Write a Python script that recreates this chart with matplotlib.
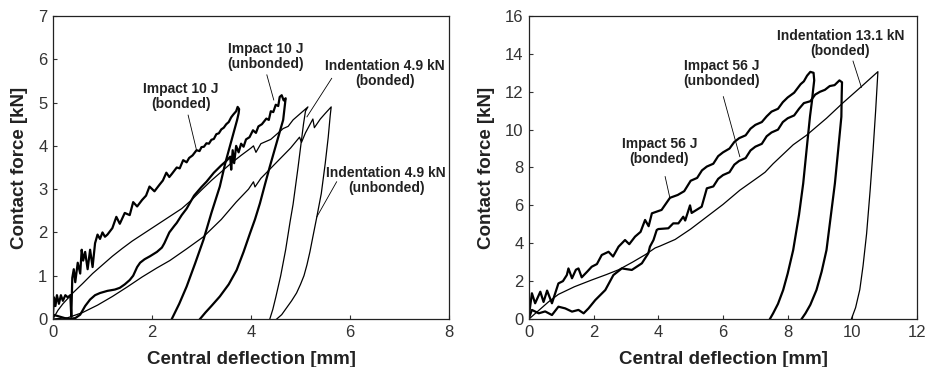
import matplotlib
matplotlib.use('Agg')
import matplotlib.pyplot as plt

plt.rcParams['font.family'] = ['Liberation Sans', 'DejaVu Sans']

## Left panel: 10 J impact vs 4.9 kN indentation
imp10_bond_x = [0.0, 0.02, 0.05, 0.08, 0.12, 0.16, 0.2, 0.25, 0.3, 0.35, 0.37, 0.39, 0.42, 0.45, 0.5, 0.55,
                0.58, 0.61, 0.65, 0.7, 0.75, 0.8, 0.85, 0.9, 0.95, 1.0, 1.05, 1.1, 1.2, 1.28, 1.35, 1.45, 1.55,
                1.62, 1.7, 1.8, 1.88, 1.95, 2.05, 2.15, 2.22, 2.29, 2.35, 2.4, 2.5, 2.56, 2.63, 2.7, 2.75,
                2.82, 2.9, 2.96, 3.0, 3.05, 3.1, 3.15, 3.2, 3.25, 3.3, 3.35, 3.4, 3.45, 3.5, 3.55, 3.6, 3.64,
                3.7, 3.73, 3.76, 3.75,
                3.72, 3.6, 3.48, 3.37, 3.2, 3.04, 2.87, 2.7, 2.55, 2.4]
imp10_bond_y = [0.1, 0.5, 0.3, 0.55, 0.35, 0.55, 0.42, 0.55, 0.5, 0.55, 0.05, 0.95, 1.15, 0.85, 1.3, 1.05,
                1.6, 1.35, 1.55, 1.15, 1.6, 1.2, 1.75, 1.95, 1.85, 2.0, 1.9, 1.95, 2.1, 2.36, 2.2, 2.45, 2.4,
                2.7, 2.6, 2.75, 2.85, 3.06, 2.95, 3.1, 3.2, 3.38, 3.28, 3.35, 3.5, 3.48, 3.67, 3.62, 3.72,
                3.78, 3.9, 3.88, 3.97, 3.98, 4.06, 4.05, 4.14, 4.16, 4.27, 4.29, 4.38, 4.42, 4.5, 4.55, 4.66,
                4.72, 4.8, 4.9, 4.85, 4.75,
                4.6, 4.1, 3.6, 3.06, 2.45, 1.83, 1.28, 0.75, 0.35, 0.0]

imp10_unb_x = [0.0, 0.15, 0.3, 0.45, 0.55, 0.65, 0.75, 0.85, 0.95, 1.1, 1.25, 1.35, 1.45, 1.55, 1.62, 1.7,
               1.76, 1.85, 1.96, 2.1, 2.2, 2.25, 2.35, 2.45, 2.5, 2.6, 2.7, 2.85, 3.0, 3.1, 3.25, 3.4, 3.5,
               3.58, 3.6, 3.63, 3.66, 3.7, 3.75, 3.8, 3.85, 3.9, 3.97, 4.04, 4.1, 4.15, 4.22, 4.31, 4.36,
               4.4, 4.45, 4.5, 4.55, 4.58, 4.62, 4.66, 4.7, 4.68,
               4.65, 4.55, 4.45, 4.38, 4.28, 4.18, 4.08, 3.98, 3.85, 3.71, 3.55, 3.37, 3.2, 3.08, 2.97]
imp10_unb_y = [0.1, 0.05, 0.0, 0.02, 0.1, 0.3, 0.45, 0.55, 0.6, 0.65, 0.68, 0.72, 0.8, 0.9, 1.0, 1.2,
               1.3, 1.38, 1.45, 1.55, 1.65, 1.75, 2.0, 2.15, 2.22, 2.4, 2.55, 2.85, 3.05, 3.17, 3.38, 3.55,
               3.65, 3.75, 3.45, 3.9, 3.6, 4.0, 3.85, 4.05, 3.98, 4.15, 4.2, 4.36, 4.3, 4.45, 4.5, 4.63,
               4.6, 4.8, 4.78, 4.95, 4.92, 5.13, 5.17, 5.05, 5.1, 4.9,
               4.6, 4.2, 3.8, 3.52, 3.1, 2.67, 2.3, 1.98, 1.55, 1.13, 0.8, 0.52, 0.3, 0.15, 0.0]

ind49_bond_x = [0.0, 0.1, 0.2, 0.4, 0.6, 0.8, 1.0, 1.2, 1.4, 1.6, 1.8, 2.0, 2.2, 2.4, 2.6, 2.8, 3.0, 3.2,
                3.4, 3.6, 3.8, 4.0, 4.05, 4.1, 4.2, 4.4, 4.55, 4.65, 4.75, 4.85, 5.0, 5.15,
                5.1, 5.06, 4.95, 4.85, 4.79, 4.7, 4.6, 4.5, 4.44, 4.38]
ind49_bond_y = [0.0, 0.2, 0.35, 0.6, 0.82, 1.05, 1.25, 1.45, 1.63, 1.8, 1.95, 2.1, 2.25, 2.4, 2.55, 2.75,
                2.98, 3.2, 3.4, 3.6, 3.78, 3.95, 4.0, 3.85, 4.05, 4.15, 4.3, 4.4, 4.45, 4.6, 4.75, 4.9,
                4.8, 4.5, 3.5, 2.65, 2.25, 1.6, 1.0, 0.5, 0.22, 0.0]

ind49_unb_x = [0.0, 0.3, 0.6, 0.9, 1.2, 1.5, 1.8, 2.1, 2.36, 2.7, 3.04, 3.4, 3.7, 3.95, 4.05, 4.08, 4.2,
               4.5, 4.8, 4.98, 5.02, 5.1, 5.25, 5.28, 5.4, 5.5, 5.62,
               5.6, 5.56, 5.5, 5.42, 5.33, 5.25, 5.19, 5.13, 5.07, 5.0, 4.92, 4.82, 4.72, 4.62, 4.52]
ind49_unb_y = [0.0, 0.03, 0.15, 0.32, 0.52, 0.74, 0.97, 1.18, 1.35, 1.62, 1.9, 2.3, 2.7, 3.0, 3.17, 3.05,
               3.25, 3.6, 3.95, 4.2, 4.08, 4.3, 4.62, 4.42, 4.62, 4.75, 4.9,
               4.7, 4.2, 3.6, 2.9, 2.36, 1.9, 1.55, 1.25, 1.0, 0.8, 0.6, 0.42, 0.26, 0.1, 0.0]

## Right panel: 56 J impact vs 13.1 kN indentation
imp56_bond_x = [0.0, 0.09, 0.19, 0.35, 0.45, 0.56, 0.71, 0.91, 1.05, 1.17, 1.22, 1.33, 1.45, 1.53, 1.63,
                1.8, 1.94, 2.1, 2.25, 2.46, 2.6, 2.77, 2.97, 3.1, 3.28, 3.45, 3.59, 3.7, 3.8, 4.1, 4.36,
                4.6, 4.8, 5.0, 5.2, 5.35, 5.5, 5.7, 5.85, 6.0, 6.2, 6.35, 6.5, 6.7, 6.85, 7.0, 7.2, 7.35,
                7.5, 7.7, 7.85, 8.0, 8.2, 8.4, 8.5, 8.6, 8.7, 8.8, 8.82,
                8.78, 8.75, 8.69, 8.6, 8.48, 8.35, 8.17, 8.0, 7.86, 7.7, 7.55, 7.45]
imp56_bond_y = [0.2, 1.36, 0.83, 1.44, 0.9, 1.5, 0.83, 1.88, 2.0, 2.32, 2.67, 2.15, 2.6, 2.67, 2.2,
                2.5, 2.76, 2.9, 3.38, 3.55, 3.3, 3.82, 4.17, 3.95, 4.35, 4.6, 5.23, 4.9, 5.58, 5.76, 6.4,
                6.55, 6.75, 7.3, 7.45, 7.85, 8.05, 8.2, 8.6, 8.8, 9.0, 9.35, 9.55, 9.7, 10.05, 10.25, 10.4,
                10.7, 10.95, 11.1, 11.45, 11.7, 11.95, 12.4, 12.55, 12.85, 13.05, 13.0, 12.6,
                12.0, 11.5, 10.7, 9.2, 7.16, 5.5, 3.64, 2.4, 1.53, 0.8, 0.3, 0.0]

imp56_unb_x = [0.0, 0.09, 0.3, 0.5, 0.71, 0.91, 1.12, 1.33, 1.53, 1.69, 1.84, 2.05, 2.36, 2.61, 2.87,
               3.18, 3.49, 3.69, 3.74, 3.85, 3.95, 4.0, 4.31, 4.46, 4.62, 4.77, 4.83, 4.98, 5.03, 5.34,
               5.5, 5.7, 5.85, 6.0, 6.2, 6.35, 6.5, 6.7, 6.85, 7.0, 7.2, 7.35, 7.5, 7.7, 7.85, 8.0, 8.2,
               8.35, 8.5, 8.7, 8.85, 9.0, 9.15, 9.3, 9.45, 9.6, 9.68,
               9.67, 9.66, 9.56, 9.46, 9.2, 9.05, 8.89, 8.7, 8.55, 8.43]
imp56_unb_y = [0.05, 0.48, 0.3, 0.4, 0.21, 0.65, 0.56, 0.39, 0.48, 0.3, 0.56, 1.0, 1.53, 2.32, 2.67,
               2.59, 2.94, 3.47, 3.82, 4.17, 4.7, 4.75, 4.79, 5.05, 5.05, 5.4, 5.2, 6.0, 5.6, 5.93,
               6.9, 7.0, 7.4, 7.6, 7.75, 8.15, 8.35, 8.5, 8.9, 9.1, 9.25, 9.65, 9.85, 10.0, 10.4, 10.6,
               10.75, 11.1, 11.4, 11.5, 11.85, 12.0, 12.1, 12.3, 12.35, 12.6, 12.5,
               11.8, 10.68, 8.9, 7.16, 3.64, 2.5, 1.53, 0.75, 0.3, 0.0]

ind131_x = [0.0, 0.3, 0.6, 0.91, 1.4, 1.94, 2.4, 2.77, 3.2, 3.6, 3.9, 4.05, 4.52, 5.0, 5.5, 6.0, 6.52,
            7.14, 7.3, 7.55, 8.17, 8.58, 9.2, 9.7, 10.23, 10.79,
            10.72, 10.64, 10.55, 10.44, 10.33, 10.23, 10.1, 9.97]
ind131_y = [0.0, 0.45, 0.9, 1.3, 1.7, 2.06, 2.35, 2.6, 3.0, 3.4, 3.75, 3.85, 4.2, 4.75, 5.4, 6.05, 6.8,
            7.55, 7.75, 8.2, 9.2, 9.7, 10.6, 11.4, 12.2, 13.06,
            11.0, 8.9, 6.8, 4.5, 2.8, 1.55, 0.6, 0.0]

# label text, text centre, arrow start, arrow end (data coords)
left_notes = [('Impact 10 J\n(bonded)', (2.59, 5.13), (2.73, 4.71), (2.9, 3.9)),
              ('Impact 10 J\n(unbonded)', (4.3, 6.06), (4.32, 5.64), (4.46, 5.06)),
              ('Indentation 4.9 kN\n(bonded)', (6.71, 5.68), (5.63, 5.56), (5.13, 4.67)),
              ('Indentation 4.9 kN\n(unbonded)', (6.73, 3.21), (5.73, 3.17), (5.33, 2.36))]
right_notes = [('Indentation 13.1 kN\n(bonded)', (9.63, 14.56), (10.02, 13.62), (10.28, 12.23)),
               ('Impact 56 J\n(unbonded)', (5.96, 12.97), (6.01, 11.74), (6.52, 8.57)),
               ('Impact 56 J\n(bonded)', (4.03, 8.84), (4.21, 7.52), (4.36, 6.37))]


fig = plt.figure(figsize=(9.31, 3.67), dpi=100)
ax1 = fig.add_axes([0.0569, 0.1308, 0.4254, 0.8256])
ax2 = fig.add_axes([0.5682, 0.1308, 0.4168, 0.8256])

thick = 1.6
thin = 0.9
ax1.plot(imp10_bond_x, imp10_bond_y, color='black', lw=thick)
ax1.plot(imp10_unb_x, imp10_unb_y, color='black', lw=thick)
ax1.plot(ind49_bond_x, ind49_bond_y, color='black', lw=thin)
ax1.plot(ind49_unb_x, ind49_unb_y, color='black', lw=thin)

ax2.plot(imp56_bond_x, imp56_bond_y, color='black', lw=thick)
ax2.plot(imp56_unb_x, imp56_unb_y, color='black', lw=thick)
ax2.plot(ind131_x, ind131_y, color='black', lw=thin)

for ax, notes in ((ax1, left_notes), (ax2, right_notes)):
    for txt, pos, p0, p1 in notes:
        ax.text(pos[0], pos[1], txt, ha='center', va='center', fontsize=10,
                fontweight='bold', color='#222222', linespacing=1.1)
        ax.plot([p0[0], p1[0]], [p0[1], p1[1]], color='black', lw=0.6)

ax1.set_xlim(0, 8)
ax1.set_ylim(0, 7)
ax1.set_xticks(range(0, 9, 2))
ax1.set_yticks(range(0, 8))
ax2.set_xlim(0, 12)
ax2.set_ylim(0, 16)
ax2.set_xticks(range(0, 13, 2))
ax2.set_yticks(range(0, 17, 2))

for ax in (ax1, ax2):
    ax.tick_params(direction='in', length=3, width=0.8, labelsize=12, colors='#333333', pad=4)
    for s in ax.spines.values():
        s.set_linewidth(0.9)
        s.set_color('#222222')
    ax.set_xlabel('Central deflection [mm]', fontsize=13.5, fontweight='bold', color='#222222', labelpad=8)
    ax.set_ylabel('Contact force [kN]', fontsize=13.5, fontweight='bold', color='#222222', labelpad=7)

plt.savefig('out.png', dpi=100)
